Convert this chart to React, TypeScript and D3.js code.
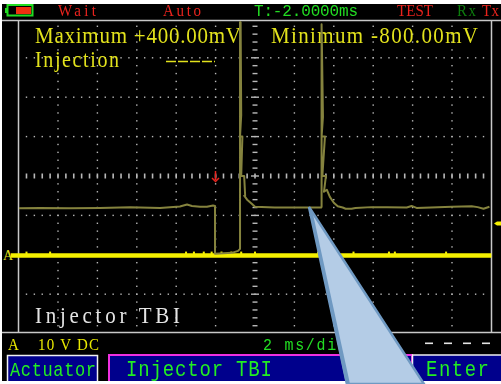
import React from "react";
import * as d3 from "d3";

const traceTime = [-9.98,-8.91,-7.39,-5.87,-4.34,-2.82,-1.81,-1.45,-1.2,-0.79,-0.44,-0.13,-0.03,-0.03,0.83,1.14,1.24,1.24,1.27,1.3,1.24,1.36,1.3,1.45,1.5,1.45,1.6,1.85,2.0,3.0,4.0,5.0,5.36,5.38,5.38,5.45,5.38,5.55,5.42,5.6,5.5,5.65,5.8,6.0,6.2,6.45,6.6,6.9,7.1,7.9,8.7,9.7,9.95,10.2,12.0,13.0,13.3,13.6,13.9];
const traceVolts = [11.8,11.9,11.8,11.9,12.05,11.9,12.25,12.75,12.4,12.2,12.2,12.5,12.4,0.25,0.5,1.0,1.5,59.1,59,35.5,30,30,20,20,15,15,14,12.9,12.2,12,12,12,12,12.2,58.5,35,30,30,20,20,16,16.5,14.7,13.2,12.3,12,11.7,11.7,11.9,12.1,12.1,12,12.4,11.9,12.2,12.3,12.1,11.7,12.2];

const channelStart = -10.4;
const channelEnd = 14;
const channelLevel = -0.2;
const channelBumps = [-9.6,-8.4,-1.5,-1.1,-0.6,-0.2,0.3,0.8,1.3,2.0,5.2,5.4,5.9,7.0,8.8,9.1,11.7];

const xDivisions = [-8,-6,-4,-2,0,4,6,8,10,12];
const yDivisions = [50,40,30,10,0,-10];
const minorTicks = d3.range(-10, 14.01, 0.4);
const minorVolts = d3.range(-20, 60.01, 2);
const centerTime = 2;
const centerVolts = 20;

const statusLabels = ["Wait", "Auto", "T:-2.0000ms", "TEST", "Rx", "Tx"];
const statusX = [58, 163, 254, 397, 457, 482];
const statusW = [38, 38, 104, 36, 19, 17];
const statusColors = ["#e8231d", "#e8231d", "#22dd22", "#e8231d", "#0c7c0c", "#e8231d"];

const x = d3.scaleLinear().domain([-10, 14]).range([18.6, 491.4]);
const y = d3.scaleLinear().domain([-20, 60]).range([333.6, 18.4]);

const tracePath = d3.line<number>().x((t) => x(t)).y((_, i) => y(traceVolts[i]))(traceTime) as string;

const serif = "'Liberation Serif', serif";
const mono = "'Liberation Mono', monospace";

function T(p: { x: number; y: number; w: number; s: number; k?: number; c: string; f?: string; children: React.ReactNode }) {
  return (
    <text
      transform={`translate(${p.x},${p.y}) scale(1,${p.k ?? 1.12})`}
      textLength={p.w}
      lengthAdjust="spacing"
      fontSize={p.s}
      fill={p.c}
      fontFamily={p.f ?? serif}
      filter="url(#soft)"
    >
      {p.children}
    </text>
  );
}

export default function App() {
  return (
    <svg width={501} height={384} style={{ position: "fixed", left: 0, top: 0, background: "#fff" }}>
      <defs>
        <filter id="soft" x="-5%" y="-20%" width="110%" height="140%">
          <feGaussianBlur stdDeviation="0.3" />
        </filter>
      </defs>
      <rect x={2} y={4} width={499} height={377} fill="#000" />

      {/* battery */}
      <rect x={7.5} y={5} width={25} height={10.5} fill="#000" stroke="#22dd22" strokeWidth={2} />
      <rect x={5} y={8} width={3} height={5} fill="#22dd22" />
      <rect x={16} y={7} width={15} height={7} fill="#f03010" />

      {/* status */}
      {statusLabels.map((s, i) => (
        <T key={s} x={statusX[i]} y={16} w={statusW[i]} s={i === 2 ? 16 : 15} k={1.05} c={statusColors[i]} f={i === 2 ? mono : serif}>{s}</T>
      ))}

      {/* frame */}
      <line x1={2} x2={501} y1={20.5} y2={20.5} stroke="#c8c8c8" strokeWidth={1.5} />
      <line x1={2} x2={501} y1={332.5} y2={332.5} stroke="#c8c8c8" strokeWidth={1.5} />
      <line x1={18.5} x2={18.5} y1={20} y2={332} stroke="#c8c8c8" strokeWidth={1.5} />
      <line x1={491.5} x2={491.5} y1={20} y2={332} stroke="#c8c8c8" strokeWidth={1.5} />

      {/* grid dots */}
      <g fill="#b8b8b8">
        {xDivisions.flatMap((d) =>
          minorVolts.filter((v) => v > -20 && v < 60).map((v) => (
            <rect key={`v${d}_${v}`} x={x(d) - 0.7} y={y(v) - 0.7} width={1.4} height={1.4} />
          ))
        )}
        {yDivisions.flatMap((v) =>
          minorTicks.filter((t) => t > -10 && t < 14).map((t) => (
            <rect key={`h${v}_${t}`} x={x(t) - 0.7} y={y(v) - 0.7} width={1.4} height={1.4} />
          ))
        )}
        {minorTicks.filter((t) => t > -10 && t < 14).map((t) => (
          <rect key={`c${t}`} x={x(t) - 0.8} y={y(centerVolts) - 2.5} width={1.6} height={5} />
        ))}
        {minorVolts.filter((v) => v > -20 && v < 60).map((v) => (
          <rect key={`m${v}`} x={x(centerTime) - (v % 10 === 0 ? 4 : 2.5)} y={y(v) - 0.7} width={v % 10 === 0 ? 8 : 5} height={1.4} />
        ))}
      </g>

      {/* readings */}
      <T x={35} y={43} w={206} s={21} c="#e2e21c">Maximum +400.00mV</T>
      <T x={271} y={43} w={207} s={21} c="#e2e21c">Minimum -800.00mV</T>
      <T x={35} y={67} w={84} s={20} c="#e2e21c">Injection</T>
      <line x1={166} x2={215} y1={61.5} y2={61.5} stroke="#e2e21c" strokeWidth={1.5} strokeDasharray="10 2" />
      <T x={35} y={323} w={145} s={21} c="#e4e4e4">Injector TBI</T>

      {/* traces */}
      <line x1={x(channelStart)} x2={x(channelEnd)} y1={y(channelLevel)} y2={y(channelLevel)} stroke="#f5f000" strokeWidth={4.5} />
      <g fill="#f5f000">
        {channelBumps.map((t) => (
          <rect key={t} x={x(t) - 1} y={y(channelLevel) - 4} width={2} height={3} />
        ))}
      </g>
      <path d={tracePath} fill="none" stroke="#85833e" strokeWidth={2} strokeLinejoin="round" />

      {/* trigger arrow, ground and level markers */}
      <path d="M215.5 171 V180 M212 178 L215.5 181.5 L219 178" fill="none" stroke="#e8231d" strokeWidth={1.5} />
      <text x={3} y={260} fontSize={14} fill="#e2e21c" fontFamily={serif}>A</text>
      <path d="M494 223.5 L497 221.5 H501 V225.5 H497 Z" fill="#f5f000" />

      {/* bottom */}
      <T x={8} y={350} w={9} s={15} k={1.1} c="#e8e800">A</T>
      <T x={38} y={350} w={61} s={15} k={1.1} c="#e8e800">10 V DC</T>
      <T x={263} y={350} w={84} s={15} k={1.1} c="#22dd22" f={mono}>2 ms/div</T>
      <g fill="#e4e4e4">
        {[425, 444, 463, 482].map((p) => <rect key={p} x={p} y={342.5} width={8} height={1.6} />)}
      </g>

      <rect x={7.5} y={355.5} width={90} height={28} fill="#00008c" stroke="#f0f0f0" strokeWidth={1.5} />
      <rect x={109} y={355} width={303} height={28} fill="#00008c" stroke="#f030e0" strokeWidth={2} />
      <rect x={412.5} y={355} width={90} height={28} fill="#00008c" stroke="#f0f0f0" strokeWidth={1.5} />
      <T x={10} y={376} w={86} s={17} k={1.2} c="#22ee22" f={mono}>Actuator</T>
      <T x={126} y={376} w={146} s={19} k={1.2} c="#22ee22" f={mono}>Injector TBI</T>
      <T x={426} y={376} w={63} s={19} k={1.2} c="#22ee22" f={mono}>Enter</T>

      <rect x={0} y={381} width={501} height={3} fill="#fff" />
      <rect x={0} y={0} width={2} height={384} fill="#fff" />

      {/* callout */}
      <polygon points="309,207 347,384 424,384" fill="#b4cce6" stroke="#6f99c2" strokeWidth={2.5} strokeLinejoin="miter" />
      <polygon points="309,207 346,384 350,384 313,214" fill="#6f99c2" />
    </svg>
  );
}
